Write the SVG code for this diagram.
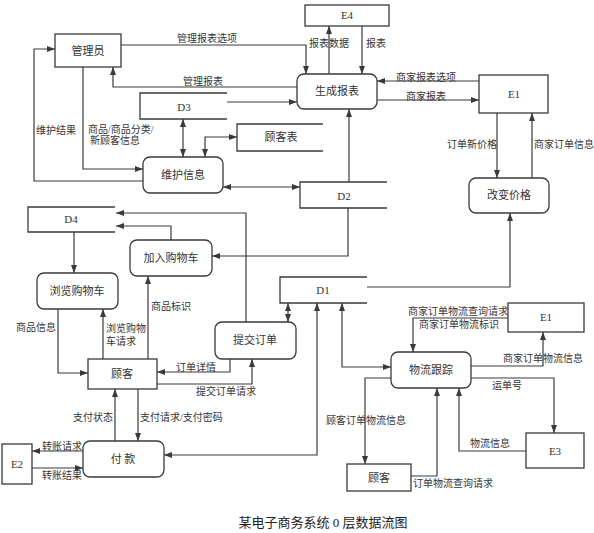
<svg xmlns="http://www.w3.org/2000/svg" width="594" height="533" viewBox="0 0 594 533">
<style>
.bg{fill:#fff}
.box{fill:#fff;stroke:#3a3a3a;stroke-width:1.3}
.store{fill:none;stroke:#3a3a3a;stroke-width:1.3}
.c{fill:none;stroke:#3a3a3a;stroke-width:1.2}
.nt{font-family:"Liberation Serif","Noto Sans CJK SC",serif;font-size:11px;fill:#333;text-anchor:middle}
.lb{font-family:"Liberation Serif","Noto Sans CJK SC",serif;font-size:10px;fill:#333}
.cap{font-family:"Liberation Serif","Noto Sans CJK SC",serif;font-size:13px;fill:#222;text-anchor:middle}
</style>
<defs>
<marker id="a" viewBox="0 0 8 6" refX="8" refY="3" markerWidth="8" markerHeight="6" markerUnits="userSpaceOnUse" orient="auto-start-reverse">
<path d="M0,0 L8,3 L0,6 z" fill="#3a3a3a"/>
</marker>
</defs>
<rect class="bg" x="0" y="0" width="594" height="533"/>

<g id="connectors">
<path class="c" d="M121,45 H306 V74" marker-end="url(#a)"/>
<path class="c" d="M297,87 H113 V67" marker-end="url(#a)"/>
<path class="c" d="M227,102 H297" marker-end="url(#a)"/>
<path class="c" d="M329,74 V26" marker-end="url(#a)"/>
<path class="c" d="M362,26 V74" marker-end="url(#a)"/>
<path class="c" d="M479,81 H377" marker-end="url(#a)"/>
<path class="c" d="M377,100 H479" marker-end="url(#a)"/>
<path class="c" d="M497,113 V178" marker-end="url(#a)"/>
<path class="c" d="M532,178 V113" marker-end="url(#a)"/>
<path class="c" d="M349,182 V109" marker-end="url(#a)"/>
<path class="c" d="M183,119 V157" marker-start="url(#a)" marker-end="url(#a)"/>
<path class="c" d="M205,157 V137 H237" marker-start="url(#a)" marker-end="url(#a)"/>
<path class="c" d="M83,67 V169 H143" marker-end="url(#a)"/>
<path class="c" d="M143,181 H34 V49 H55" marker-end="url(#a)"/>
<path class="c" d="M223,187 H300" marker-start="url(#a)" marker-end="url(#a)"/>
<path class="c" d="M348,208 V256 H212" marker-end="url(#a)"/>
<path class="c" d="M246,322 V213 H116" marker-end="url(#a)"/>
<path class="c" d="M171,240 V226 H116" marker-end="url(#a)"/>
<path class="c" d="M74,232 V273" marker-end="url(#a)"/>
<path class="c" d="M58,309 V373 H88" marker-end="url(#a)"/>
<path class="c" d="M103,359 V309" marker-end="url(#a)"/>
<path class="c" d="M148,359 V276" marker-end="url(#a)"/>
<path class="c" d="M230,359 V372 H157" marker-end="url(#a)"/>
<path class="c" d="M157,384 H252 V359" marker-end="url(#a)"/>
<path class="c" d="M115,441 V389" marker-end="url(#a)"/>
<path class="c" d="M138,389 V441" marker-end="url(#a)"/>
<path class="c" d="M83,451 H32" marker-end="url(#a)"/>
<path class="c" d="M32,468 H83" marker-end="url(#a)"/>
<path class="c" d="M317,303 V455 H164" marker-start="url(#a)" marker-end="url(#a)"/>
<path class="c" d="M288,303 V322" marker-start="url(#a)" marker-end="url(#a)"/>
<path class="c" d="M342,303 V367 H391" marker-start="url(#a)" marker-end="url(#a)"/>
<path class="c" d="M367,287 H510 V213" marker-end="url(#a)"/>
<path class="c" d="M508,318 H413 V352" marker-end="url(#a)"/>
<path class="c" d="M471,366 H543 V332" marker-end="url(#a)"/>
<path class="c" d="M471,378 H554 V433" marker-end="url(#a)"/>
<path class="c" d="M526,451 H459 V388" marker-end="url(#a)"/>
<path class="c" d="M391,378 H365 V464" marker-end="url(#a)"/>
<path class="c" d="M411,476 H437 V388" marker-end="url(#a)"/>

<text class="lb" x="207" y="42" text-anchor="middle">管理报表选项</text>
<text class="lb" x="203" y="85" text-anchor="middle">管理报表</text>
<text class="lb" x="88" y="133">商品/商品分类/</text>
<text class="lb" x="90" y="144">新顾客信息</text>
<text class="lb" x="36" y="134">维护结果</text>
<text class="lb" x="329" y="47" text-anchor="middle">报表数据</text>
<text class="lb" x="366" y="47">报表</text>
<text class="lb" x="396" y="81">商家报表选项</text>
<text class="lb" x="406" y="100">商家报表</text>
<text class="lb" x="447" y="148">订单新价格</text>
<text class="lb" x="534" y="148">商家订单信息</text>
<text class="lb" x="16" y="331">商品信息</text>
<text class="lb" x="106" y="332">浏览购物</text>
<text class="lb" x="106" y="345">车请求</text>
<text class="lb" x="151" y="310">商品标识</text>
<text class="lb" x="176" y="371">订单详情</text>
<text class="lb" x="196" y="395">提交订单请求</text>
<text class="lb" x="73" y="421">支付状态</text>
<text class="lb" x="140" y="421">支付请求/支付密码</text>
<text class="lb" x="42" y="450">转账请求</text>
<text class="lb" x="42" y="479">转账结果</text>
<text class="lb" x="408" y="315">商家订单物流查询请求/</text>
<text class="lb" x="419" y="328">商家订单物流标识</text>
<text class="lb" x="503" y="362">商家订单物流信息</text>
<text class="lb" x="492" y="389">运单号</text>
<text class="lb" x="470" y="447">物流信息</text>
<text class="lb" x="326" y="424">顾客订单物流信息</text>
<text class="lb" x="413" y="487">订单物流查询请求</text>
</g>

<g id="admin"><rect class="box" x="55" y="34" width="66" height="33"/><text class="nt" x="88" y="55">管理员</text></g>
<g id="e4"><rect class="box" x="305" y="5" width="84" height="21"/><text class="nt" x="347" y="19">E4</text></g>
<g id="report"><rect class="box" x="297" y="74" width="80" height="35" rx="7"/><text class="nt" x="337" y="95">生成报表</text></g>
<g id="e1a"><rect class="box" x="479" y="75" width="69" height="38"/><text class="nt" x="514" y="98">E1</text></g>
<g id="d3"><path class="store" d="M227,93 H140 V119 H227"/><text class="nt" x="184" y="111">D3</text></g>
<g id="custtable"><path class="store" d="M323,124 H237 V151 H323"/><text class="nt" x="281" y="141">顾客表</text></g>
<g id="maintain"><rect class="box" x="143" y="157" width="80" height="36" rx="7"/><text class="nt" x="183" y="179">维护信息</text></g>
<g id="d2"><path class="store" d="M387,182 H300 V208 H387"/><text class="nt" x="344" y="200">D2</text></g>
<g id="price"><rect class="box" x="469" y="178" width="80" height="35" rx="7"/><text class="nt" x="509" y="199">改变价格</text></g>
<g id="d4"><path class="store" d="M115,207 H28 V232 H115"/><text class="nt" x="71" y="223">D4</text></g>
<g id="addcart"><rect class="box" x="130" y="240" width="82" height="36" rx="7"/><text class="nt" x="171" y="262">加入购物车</text></g>
<g id="browse"><rect class="box" x="37" y="273" width="81" height="36" rx="7"/><text class="nt" x="77" y="295">浏览购物车</text></g>
<g id="d1"><path class="store" d="M367,277 H280 V303 H367"/><text class="nt" x="323" y="294">D1</text></g>
<g id="submit"><rect class="box" x="215" y="322" width="81" height="37" rx="7"/><text class="nt" x="255" y="344">提交订单</text></g>
<g id="customer"><rect class="box" x="88" y="359" width="69" height="30"/><text class="nt" x="122" y="378">顾客</text></g>
<g id="e1b"><rect class="box" x="508" y="303" width="76" height="29"/><text class="nt" x="546" y="321">E1</text></g>
<g id="logistics"><rect class="box" x="391" y="352" width="80" height="36" rx="7"/><text class="nt" x="431" y="374">物流跟踪</text></g>
<g id="pay"><rect class="box" x="83" y="441" width="81" height="36" rx="7"/><text class="nt" x="123" y="463">付 款</text></g>
<g id="e2"><rect class="box" x="2" y="444" width="30" height="40"/><text class="nt" x="17" y="468">E2</text></g>
<g id="e3"><rect class="box" x="526" y="433" width="58" height="35"/><text class="nt" x="555" y="455">E3</text></g>
<g id="customer2"><rect class="box" x="347" y="464" width="64" height="27"/><text class="nt" x="379" y="482">顾客</text></g>

<text class="cap" x="323" y="527">某电子商务系统 0 层数据流图</text>
</svg>
